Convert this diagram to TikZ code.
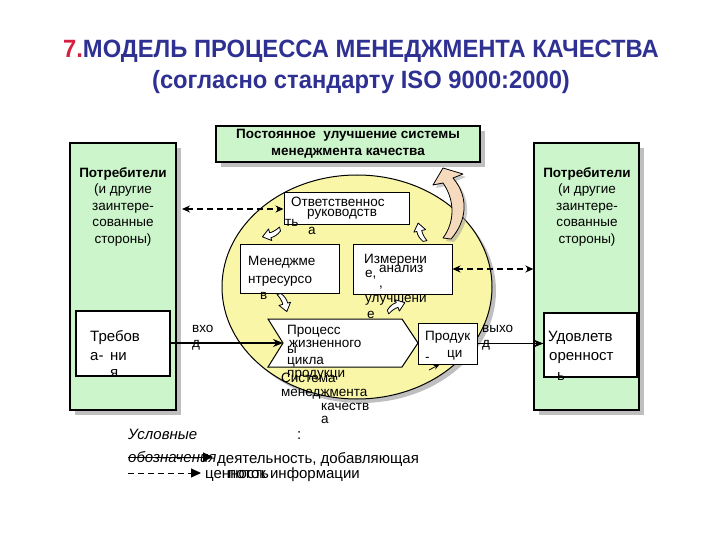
\documentclass[tikz,border=0pt]{standalone}
\usepackage{fontspec}
\setmainfont{Liberation Sans}
\newfontfamily\titlefont[FakeStretch=0.95]{Liberation Sans}
\usetikzlibrary{arrows.meta, shadows, calc}

\definecolor{custgreen}{RGB}{204,245,204}
\definecolor{circyellow}{RGB}{250,246,168}
\definecolor{peach}{RGB}{245,218,190}
\definecolor{titleblue}{RGB}{46,49,146}
\definecolor{titlered}{RGB}{214,32,64}

\tikzset{
  flowarr/.pic={
    \draw[fill=white, line width=0.8pt, line join=round]
      (0,-2) .. controls (4,-5) and (7,-6) .. (11,-6) -- (11,-9) -- (19,-3) -- (11,3)
      -- (11,-1) .. controls (7,-1) and (4,0) .. (0,2) -- cycle;
  }
}

\begin{document}
\begin{tikzpicture}[x=1pt, y=-1pt,
  greenbox/.style={draw=black, line width=1.3pt, fill=custgreen,
    drop shadow={shadow xshift=5pt, shadow yshift=-5pt, fill=black!50}},
  whitebox/.style={draw=black, line width=1pt, fill=white},
  lbl/.style={anchor=base west, inner sep=0pt, font=\fontsize{13.5}{15}\selectfont},
  biglbl/.style={lbl, font=\fontsize{15}{17}\selectfont},
  info/.style={dash pattern=on 6pt off 4pt, line width=1.3pt,
    {Stealth[length=8pt,width=7pt]}-{Stealth[length=8pt,width=7pt]}},
  work/.style={line width=1.1pt, -{Stealth[length=10pt,width=8pt]}},
]
  \useasboundingbox (0,0) rectangle (720,540);

  % Title
  \node[anchor=base, inner sep=0pt, text=titleblue,
    font=\titlefont\bfseries\fontsize{25}{30}\selectfont] (title) at (361,58)
    {\textcolor{titlered}{7.}МОДЕЛЬ ПРОЦЕССА МЕНЕДЖМЕНТА КАЧЕСТВА};
  \node[anchor=base, inner sep=0pt, text=titleblue,
    font=\titlefont\bfseries\fontsize{25}{30}\selectfont] (subtitle) at (361,89)
    {(согласно стандарту ISO 9000:2000)};

  % Customers on both sides
  \node[greenbox, minimum width=106pt, minimum height=267pt] (custL) at (123,276.5) {};
  \node[greenbox, minimum width=105pt, minimum height=267pt] (custR) at (586.5,276.5) {};
  \foreach \bx/\cx in {custL/123, custR/587} {
    \node[anchor=north, align=center, inner sep=0pt, font=\fontsize{13.5}{16.5}\selectfont]
      (\bx-txt) at (\cx,167)
      {\textbf{Потребители}\\(и другие\\заинтере-\\сованные\\стороны)};
  }

  % Requirements and satisfaction
  \node[whitebox, line width=1.2pt, minimum width=94pt, minimum height=65pt] (req) at (123,343.5) {};
  \node[biglbl] (req-1) at (90,341) {Требов};
  \node[biglbl] (req-2) at (90,360) {а-};
  \node[biglbl] (req-3) at (110,360) {ни};
  \node[biglbl] (req-4) at (110,377) {я};
  \node[whitebox, line width=1.2pt, minimum width=93pt, minimum height=64pt] (sat) at (590.5,345) {};
  \node[biglbl] (sat-1) at (548,341) {Удовлетв};
  \node[biglbl] (sat-2) at (549,360) {оренност};
  \node[biglbl] (sat-3) at (557,380) {ь};

  % Continual improvement
  \node[greenbox, line width=1.2pt, minimum width=264pt, minimum height=36pt, align=center,
    inner sep=0pt, font=\bfseries\fontsize{13.5}{17}\selectfont] (impr) at (348,144)
    {Постоянное\ \ улучшение системы\\менеджмента качества};

  % Quality management system
  \draw[fill=circyellow, line width=1pt,
    drop shadow={shadow xshift=4pt, shadow yshift=-4pt, fill=black!50}]
    (357,287) ellipse [x radius=135pt, y radius=112pt];

  % Improvement arrow
  \draw[fill=peach, line width=0.8pt, line join=round,
    drop shadow={shadow xshift=3pt, shadow yshift=-3pt, fill=black!40}]
    (443,238) .. controls (455,222) and (455,200) .. (443,183) -- (433,185) -- (443,168)
    -- (463,174) -- (453,178) .. controls (470,198) and (466,222) .. (451,239) -- cycle;

  \node[whitebox, minimum width=125pt, minimum height=32pt] (resp) at (346.5,209) {};
  \node[whitebox, minimum width=99pt, minimum height=49pt] (res) at (289.5,268.5) {};
  \node[whitebox, minimum width=99pt, minimum height=50pt] (meas) at (402.5,269) {};
  \draw[whitebox] (268,319) -- (402,319) -- (418,343) -- (402,367) -- (268,367) -- (283,343) -- cycle;
  \coordinate (procin) at (283,343);
  \node[whitebox, minimum width=59pt, minimum height=41pt] (prod) at (447.5,343.5) {};

  % Texts in the circle
  \node[lbl] (resp-1) at (291,207) {Ответственнос};
  \node[lbl] (resp-2) at (285,226) {ть};
  \node[lbl] (resp-3) at (307,217) {руководств};
  \node[lbl] (resp-4) at (308,235) {а};
  \node[lbl] (res-1) at (248,265) {Менеджме};
  \node[lbl] (res-2) at (248,283) {нтресурсо};
  \node[lbl] (res-3) at (260,299) {в};
  \node[lbl] (meas-1) at (364,263) {Измерени};
  \node[lbl] (meas-2) at (365,277) {е,};
  \node[lbl] (meas-3) at (379,272) {анализ};
  \node[lbl] (meas-4) at (379,287) {,};
  \node[lbl] (meas-5) at (365,302) {улучшени};
  \node[lbl] (meas-6) at (367,318) {е};
  \node[lbl] (proc-1) at (287,334) {Процесс};
  \node[lbl] (proc-2) at (289,347) {жизненного};
  \node[lbl] (proc-3) at (287,353) {ы};
  \node[lbl] (proc-4) at (287,364) {цикла};
  \node[lbl] (proc-5) at (287,377) {продукци};
  \node[lbl] (qms-1) at (281,382) {Система};
  \node[lbl] (qms-2) at (281,396) {менеджмента};
  \node[lbl] (qms-3) at (321,410) {качеств};
  \node[lbl] (qms-4) at (321,423) {а};
  \node[lbl] (prod-1) at (425,340) {Продук};
  \node[lbl] (prod-2) at (425,361) {-};
  \node[lbl] (prod-3) at (447,357) {ци};
  \node[lbl] (in) at (192,332) {вхо};
  \node[lbl] (in-2) at (192,347) {д};
  \node[lbl] (out) at (482,332) {выхо};
  \node[lbl] (out-2) at (482,347) {д};

  % Cycle arrows
  \pic[rotate=195] at (280,229) {flowarr};
  \pic[rotate=-75] at (279,294) {flowarr};
  \pic[rotate=20] at (388,312) {flowarr};
  \pic[rotate=102] at (425,241) {flowarr};

  % Information flows
  \coordinate (infoL) at (182,209);
  \draw[info] (infoL) -- (resp.west);
  \draw[info] (meas.east) -- (custR.west |- meas.east);

  % Value adding activity
  \draw[work] (req.east |- procin) -- (procin);
  \draw[work] (prod.east) -- (sat.west |- prod.east);
  \coordinate (sysnote) at (429,370);
  \draw[line width=0.8pt, -{Stealth[length=6pt,width=5pt]}] (sysnote) -- ([xshift=-8pt]prod.south);

  % Legend
  \node[biglbl, font=\itshape\fontsize{15}{17}\selectfont] (leg-1) at (128,439) {Условные};
  \node[biglbl] (leg-2) at (297,439) {:};
  \node[biglbl, font=\itshape\fontsize{15}{17}\selectfont] (leg-3) at (128,462) {обозначения};
  \node[biglbl] (leg-4) at (217,463) {деятельность, добавляющая};
  \node[biglbl] (leg-5) at (205,478) {ценность};
  \node[biglbl] (leg-6) at (228,478) {поток информации};
  \coordinate (legA1) at (128,457);
  \coordinate (legA2) at (213,457);
  \draw[line width=1pt, -{Triangle[length=10pt,width=9pt]}] (legA1) -- (legA2);
  \coordinate (legB1) at (128,473);
  \coordinate (legB2) at (201,473);
  \draw[line width=1pt, dash pattern=on 6pt off 4pt, -{Triangle[length=10pt,width=9pt]}] (legB1) -- (legB2);
\end{tikzpicture}
\end{document}
